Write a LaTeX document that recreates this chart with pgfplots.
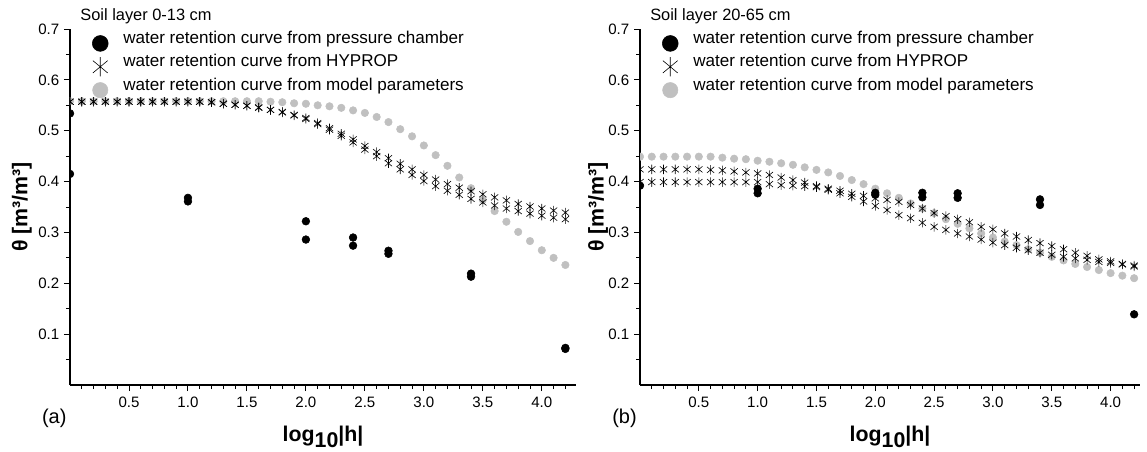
\documentclass[border=0pt]{standalone}
\usepackage{fontspec}
\setmainfont{Liberation Sans}
\usepackage{pgfplots}
\pgfplotsset{compat=1.18}
\definecolor{mgray}{RGB}{192,192,192}
\pgfdeclareplotmark{ast}{%
  \pgfpathmoveto{\pgfqpoint{0pt}{\pgfplotmarksize}}%
  \pgfpathlineto{\pgfqpoint{0pt}{-\pgfplotmarksize}}%
  \pgfpathmoveto{\pgfqpoint{0.77\pgfplotmarksize}{0.64\pgfplotmarksize}}%
  \pgfpathlineto{\pgfqpoint{-0.77\pgfplotmarksize}{-0.64\pgfplotmarksize}}%
  \pgfpathmoveto{\pgfqpoint{-0.77\pgfplotmarksize}{0.64\pgfplotmarksize}}%
  \pgfpathlineto{\pgfqpoint{0.77\pgfplotmarksize}{-0.64\pgfplotmarksize}}%
  \pgfusepathqstroke}
\pgfplotsset{
  panel/.style={
    scale only axis, height=267pt, anchor=south west,
    xmin=0, ymin=0, ymax=0.7,
    axis x line*=bottom, axis y line*=left,
    axis line style={-, line width=0.9pt},
    tick align=outside,
    major tick length=4.5pt, minor tick length=3pt,
    every tick/.style={black, line width=0.7pt},
    xtick={0.5,1,...,4}, minor xtick={0.1,0.2,...,4.25},
    ytick={0.1,0.2,...,0.7}, minor ytick={0.05,0.15,...,0.66},
    /pgf/number format/assume math mode=true,
    /pgf/number format/fixed, /pgf/number format/fixed zerofill,
    /pgf/number format/precision=1,
    tick label style={font=\fontsize{11.3}{13}\selectfont},
    xticklabel style={yshift=-1pt},
    clip=true, clip mode=individual, clip marker paths=true,
    xlabel={\textbf{log}\raisebox{-0.3em}{\textbf{10}}\textbf{|h|}},
    xlabel style={font=\fontsize{16}{18}\selectfont, at={(axis description cs:0.5,-0.146)}, anchor=center},
    ylabel={\textbf{θ [m³/m³]}},
    ylabel style={font=\fontsize{16}{18}\selectfont, anchor=center},
    legend cell align=left,
    reverse legend,
    legend image code/.code={%
      \path[draw=none, fill=none] (-6pt,-8.25pt) rectangle (6pt,8.25pt);
      \draw[#1,/tikz/every mark/.append style={scale=2.05}] plot coordinates {(0pt,0pt)};},
    legend style={draw=none, fill=none, inner sep=0pt, anchor=north west,
      font=\fontsize{12.8}{14}\selectfont, row sep=0pt,
      nodes={inner sep=0pt, anchor=base west},
      /tikz/every odd column/.append style={column sep=11.25pt}},
    grayp/.style={only marks, mark=*, mark size=2.8pt, color=mgray, mark options={draw=mgray, fill=mgray}},
    hyp/.style={only marks, mark=ast, mark size=3.5pt, black, line width=0.45pt},
    blk/.style={only marks, mark=*, mark size=2.9pt, black},
  }
}
\begin{document}
\begin{tikzpicture}
\path[use as bounding box] (0,0) rectangle (860.25pt,338.25pt);
% ---------------- panel (a)
\begin{axis}[panel, at={(52.5pt,49.5pt)}, width=379.5pt, xmax=4.29,
  ylabel style={at={(axis description cs:-0.095,0.5)}},
  legend style={at={(axis description cs:0.0435,0.995)}}]
\addplot[grayp] coordinates {
(0,0.558)(0.1,0.558)(0.2,0.558)(0.3,0.558)(0.4,0.558)(0.5,0.558)(0.6,0.558)(0.7,0.558)
(0.8,0.558)(0.9,0.558)(1.0,0.558)(1.1,0.558)(1.2,0.558)(1.3,0.558)(1.4,0.558)(1.5,0.558)
(1.6,0.558)(1.7,0.557)(1.8,0.556)(1.9,0.554)(2.0,0.553)(2.1,0.550)(2.2,0.548)(2.3,0.545)
(2.4,0.540)(2.5,0.535)(2.6,0.527)(2.7,0.517)(2.8,0.503)(2.9,0.489)(3.0,0.471)(3.1,0.452)
(3.2,0.431)(3.3,0.408)(3.4,0.387)(3.5,0.364)(3.6,0.342)(3.7,0.321)(3.8,0.301)(3.9,0.283)
(4.0,0.265)(4.1,0.250)(4.2,0.236)};
\addlegendentry{water retention curve from model parameters}
\addplot[hyp] coordinates {
(0,0.557)(0.1,0.557)(0.2,0.557)(0.3,0.557)(0.4,0.557)(0.5,0.557)(0.6,0.557)(0.7,0.557)
(0.8,0.557)(0.9,0.557)(1.0,0.557)(1.1,0.557)(1.2,0.556)(1.3,0.553)(1.4,0.551)(1.5,0.549)
(1.6,0.546)(1.7,0.541)(1.8,0.537)(1.9,0.531)(2.0,0.525)(2.1,0.515)(2.2,0.505)(2.3,0.494)
(2.4,0.483)(2.5,0.470)(2.6,0.458)(2.7,0.446)(2.8,0.435)(2.9,0.424)(3.0,0.413)(3.1,0.404)
(3.2,0.395)(3.3,0.388)(3.4,0.381)(3.5,0.375)(3.6,0.369)(3.7,0.363)(3.8,0.356)(3.9,0.351)
(4.0,0.347)(4.1,0.343)(4.2,0.339)};
\addlegendentry{water retention curve from HYPROP}
\addplot[hyp, forget plot] coordinates {
(0,0.557)(0.1,0.557)(0.2,0.557)(0.3,0.557)(0.4,0.557)(0.5,0.557)(0.6,0.557)(0.7,0.557)
(0.8,0.557)(0.9,0.557)(1.0,0.557)(1.1,0.557)(1.2,0.556)(1.3,0.553)(1.4,0.551)(1.5,0.549)
(1.6,0.545)(1.7,0.541)(1.8,0.536)(1.9,0.530)(2.0,0.523)(2.1,0.513)(2.2,0.502)(2.3,0.490)
(2.4,0.477)(2.5,0.463)(2.6,0.450)(2.7,0.436)(2.8,0.424)(2.9,0.413)(3.0,0.401)(3.1,0.391)
(3.2,0.382)(3.3,0.374)(3.4,0.366)(3.5,0.359)(3.6,0.353)(3.7,0.347)(3.8,0.342)(3.9,0.337)
(4.0,0.333)(4.1,0.329)(4.2,0.326)};
\addplot[blk] coordinates {
(0,0.534)(0,0.415)(1,0.368)(1,0.361)(2,0.322)(2,0.286)(2.4,0.290)(2.4,0.274)
(2.7,0.264)(2.7,0.258)(3.4,0.219)(3.4,0.213)(4.2,0.073)(4.2,0.071)};
\addlegendentry{water retention curve from pressure chamber}
\node[anchor=west, inner sep=0pt, font=\fontsize{12.3}{14}\selectfont] at (axis description cs:0.02,1.035) {Soil layer 0-13 cm};
\node[anchor=center, font=\fontsize{15}{17}\selectfont] at (axis description cs:-0.031,-0.093) {(a)};
\end{axis}
% ---------------- panel (b)
\begin{axis}[panel, at={(480pt,49.5pt)}, width=375pt, xmax=4.25,
  ylabel style={at={(axis description cs:-0.084,0.5)}},
  legend style={at={(axis description cs:0.044,0.995)}}]
\addplot[grayp] coordinates {
(0,0.449)(0.1,0.449)(0.2,0.449)(0.3,0.449)(0.4,0.449)(0.5,0.449)(0.6,0.449)(0.7,0.447)
(0.8,0.445)(0.9,0.444)(1.0,0.441)(1.1,0.439)(1.2,0.436)(1.3,0.433)(1.4,0.428)(1.5,0.423)
(1.6,0.418)(1.7,0.411)(1.8,0.403)(1.9,0.395)(2.0,0.386)(2.1,0.377)(2.2,0.368)(2.3,0.357)
(2.4,0.347)(2.5,0.338)(2.6,0.326)(2.7,0.317)(2.8,0.308)(2.9,0.298)(3.0,0.290)(3.1,0.282)
(3.2,0.275)(3.3,0.267)(3.4,0.260)(3.5,0.252)(3.6,0.245)(3.7,0.238)(3.8,0.232)(3.9,0.226)
(4.0,0.220)(4.1,0.215)(4.2,0.210)};
\addlegendentry{water retention curve from model parameters}
\addplot[hyp] coordinates {
(0,0.424)(0.1,0.424)(0.2,0.424)(0.3,0.424)(0.4,0.424)(0.5,0.424)(0.6,0.423)(0.7,0.422)
(0.8,0.420)(0.9,0.418)(1.0,0.416)(1.1,0.413)(1.2,0.408)(1.3,0.403)(1.4,0.398)(1.5,0.391)
(1.6,0.384)(1.7,0.377)(1.8,0.370)(1.9,0.361)(2.0,0.352)(2.1,0.344)(2.2,0.334)(2.3,0.328)
(2.4,0.319)(2.5,0.311)(2.6,0.305)(2.7,0.298)(2.8,0.292)(2.9,0.286)(3.0,0.280)(3.1,0.275)
(3.2,0.270)(3.3,0.265)(3.4,0.260)(3.5,0.256)(3.6,0.252)(3.7,0.249)(3.8,0.246)(3.9,0.242)
(4.0,0.240)(4.1,0.237)(4.2,0.233)};
\addlegendentry{water retention curve from HYPROP}
\addplot[hyp, forget plot] coordinates {
(0,0.399)(0.1,0.399)(0.2,0.399)(0.3,0.399)(0.4,0.399)(0.5,0.399)(0.6,0.399)(0.7,0.399)
(0.8,0.399)(0.9,0.399)(1.0,0.399)(1.1,0.395)(1.2,0.393)(1.3,0.392)(1.4,0.391)(1.5,0.389)
(1.6,0.386)(1.7,0.382)(1.8,0.376)(1.9,0.372)(2.0,0.367)(2.1,0.364)(2.2,0.360)(2.3,0.354)
(2.4,0.347)(2.5,0.338)(2.6,0.332)(2.7,0.326)(2.8,0.320)(2.9,0.311)(3.0,0.306)(3.1,0.298)
(3.2,0.292)(3.3,0.285)(3.4,0.279)(3.5,0.273)(3.6,0.267)(3.7,0.260)(3.8,0.254)(3.9,0.247)
(4.0,0.243)(4.1,0.238)(4.2,0.235)};
\addplot[blk] coordinates {
(0,0.392)(1,0.386)(1,0.377)(2,0.378)(2,0.374)(2.4,0.378)(2.4,0.369)(2.7,0.377)
(2.7,0.368)(3.4,0.365)(3.4,0.354)(4.2,0.139)};
\addlegendentry{water retention curve from pressure chamber}
\node[anchor=west, inner sep=0pt, font=\fontsize{12.3}{14}\selectfont] at (axis description cs:0.02,1.035) {Soil layer 20-65 cm};
\node[anchor=center, font=\fontsize{15}{17}\selectfont] at (axis description cs:-0.031,-0.093) {(b)};
\end{axis}
\end{tikzpicture}
\end{document}
